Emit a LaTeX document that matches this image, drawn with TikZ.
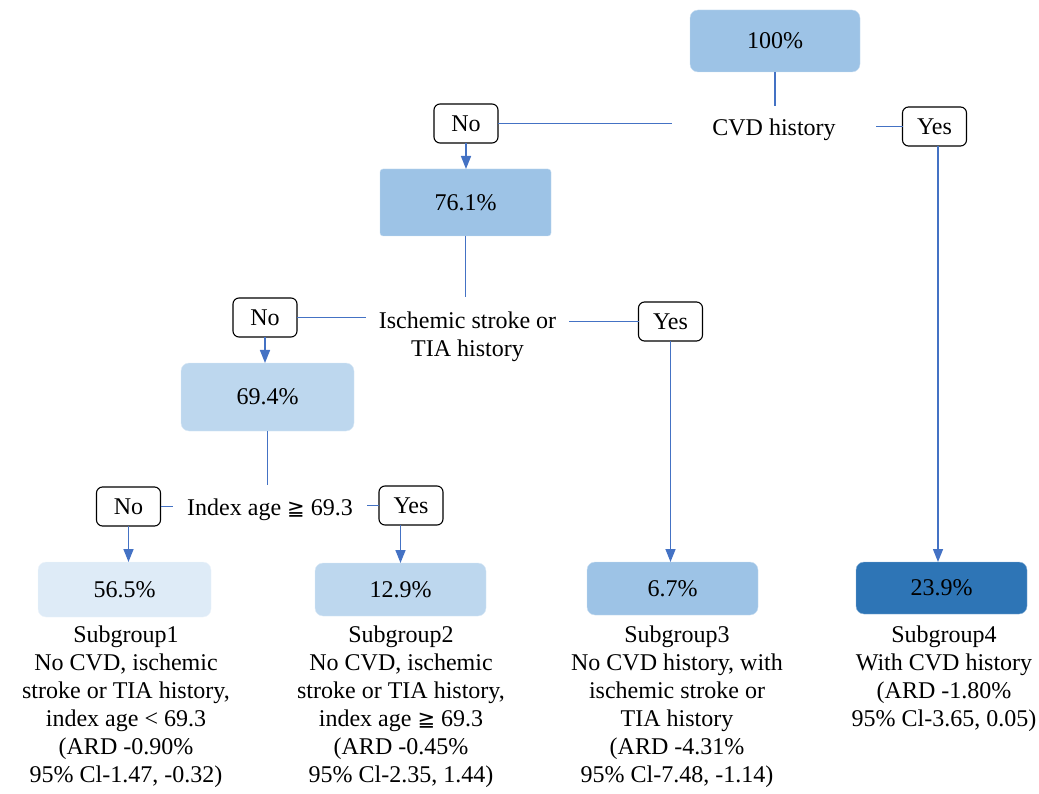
\documentclass[tikz,border=0pt]{standalone}
\usepackage{fontspec}
\setmainfont{Liberation Serif}
\newfontfamily\symfnt{DejaVu Sans}
\usetikzlibrary{arrows.meta,calc}
\definecolor{cA}{HTML}{9DC3E6}
\definecolor{cB}{HTML}{BDD7EE}
\definecolor{cC}{HTML}{DEEBF7}
\definecolor{cD}{HTML}{2E75B6}
\definecolor{lnc}{HTML}{4472C4}
\newcommand{\geqq}{{\symfnt\fontsize{21}{28}\selectfont ≧}}
\begin{document}
\begin{tikzpicture}[x=1pt,y=-1pt,
  every node/.style={font=\fontsize{24}{28}\selectfont, outer sep=0pt},
  pbox/.style={rounded corners=8pt, minimum width=171pt, inner sep=0pt},
  ynbox/.style={draw=black, line width=1.1pt, fill=white, rounded corners=6pt, minimum width=64pt, minimum height=39pt, inner sep=0pt},
  lbl/.style={inner xsep=0pt, align=center},
  conn/.style={draw=lnc, line width=1.5pt},
  arr/.style={conn, -{Triangle[width=10pt,length=13pt]}, fill=lnc},
  desc/.style={anchor=north, align=center, inner sep=0pt}
]
\useasboundingbox (0,0) rectangle (1039,794);

% percentage boxes
\node[pbox, fill=cA, draw=cA!55!white, minimum width=170pt, minimum height=62pt] (top) at (775,41) {100\%};
\node[pbox, fill=cA, draw=cA!55!white, rounded corners=3pt, minimum height=67pt] (b76) at (465.5,202.5) {76.1\%};
\node[pbox, fill=cB, draw=cB!55!white, minimum width=173pt, minimum height=68pt] (b69) at (267.5,397) {69.4\%};
\node[pbox, fill=cC, draw=cC!55!white, minimum width=173pt, minimum height=55pt] (b565) at (124.5,589.5) {56.5\%};
\node[pbox, fill=cB, draw=cB!55!white, minimum height=53pt] (b129) at (400.5,589.5) {12.9\%};
\node[pbox, fill=cA, draw=cA!55!white, minimum height=53pt] (b67) at (672.5,588.5) {6.7\%};
\node[pbox, fill=cD, draw=cD!55!white, minimum height=52pt] (b239) at (941.5,588) {23.9\%};

% split labels
\node[lbl, minimum width=204pt, inner ysep=13pt] (cvd) at (774,130) {CVD history};
\node[lbl, minimum width=203pt, inner ysep=15pt] (isch) at (467.5,336.5) {Ischemic stroke or\\TIA history};
\node[lbl, minimum width=194pt, inner ysep=13.5pt] (age) at (270,509.5) {Index age \geqq\ 69.3};

% yes / no boxes
\node[ynbox] (no1) at (466,123.5) {No};
\node[ynbox] (yes1) at (934.5,126.5) {Yes};
\node[ynbox] (no2) at (265,317.5) {No};
\node[ynbox] (yes2) at (670.5,321.5) {Yes};
\node[ynbox] (no3) at (128.5,506.5) {No};
\node[ynbox] (yes3) at (411,505.5) {Yes};

% connectors
\draw[conn] (top.south) -- (top.south |- cvd.north);
\draw[conn] (no1.east) -- (no1.east -| cvd.west);
\draw[conn] (yes1.west) -- (yes1.west -| cvd.east);
\draw[arr] (no1.south) -- (no1.south |- b76.north);
\draw[arr] ($(yes1.south)+(3.5,0)$) -- ($(yes1.south |- b239.north)+(3.5,0)$);

\draw[conn] (b76.south) -- (b76.south |- isch.north);
\draw[conn] (no2.east) -- (no2.east -| isch.west);
\draw[conn] (yes2.west) -- (yes2.west -| isch.east);
\draw[arr] (no2.south) -- (no2.south |- b69.north);
\draw[arr] (yes2.south) -- (yes2.south |- b67.north);

\draw[conn] (b69.south) -- (b69.south |- age.north);
\draw[conn] (no3.east) -- (no3.east -| age.west);
\draw[conn] (yes3.west) -- (yes3.west -| age.east);
\draw[arr] (no3.south) -- (no3.south |- b565.north);
\draw[arr] (b129.north |- yes3.south) -- (b129.north);

% descriptions
\node[desc] (d1) at (126,626) {Subgroup1\\No CVD, ischemic\\stroke or TIA history,\\index age < 69.3\\(ARD -0.90\%\\95\% Cl-1.47, -0.32)};
\node[desc] (d2) at (401,626) {Subgroup2\\No CVD, ischemic\\stroke or TIA history,\\index age \geqq\ 69.3\\(ARD -0.45\%\\95\% Cl-2.35, 1.44)};
\node[desc] (d3) at (677,626) {Subgroup3\\No CVD history, with\\ischemic stroke or\\TIA history\\(ARD -4.31\%\\95\% Cl-7.48, -1.14)};
\node[desc] (d4) at (944,626) {Subgroup4\\With CVD history\\(ARD -1.80\%\\95\% Cl-3.65, 0.05)};
\end{tikzpicture}
\end{document}
